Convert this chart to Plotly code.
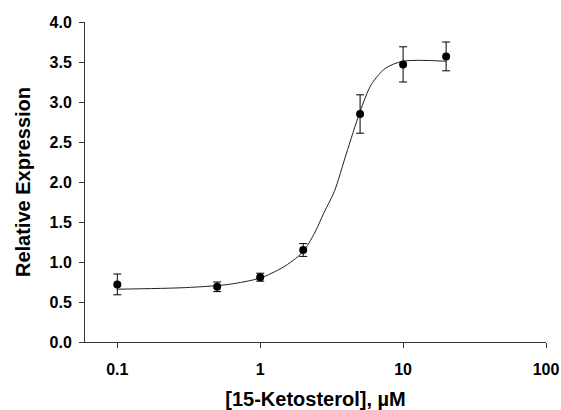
import plotly.graph_objects as go

# Measured data points
conc = [0.1, 0.5, 1, 2, 5, 10, 20]
expr = [0.72, 0.69, 0.81, 1.15, 2.85, 3.47, 3.57]
err = [0.13, 0.06, 0.05, 0.08, 0.24, 0.22, 0.18]

# Fitted curve
curve_x = [0.1, 0.3, 0.6, 1.0, 1.4, 1.7, 2.0, 2.4, 2.8, 3.3, 4.0, 5.0, 6.0, 7.5, 10, 20]
curve_y = [0.66, 0.68, 0.72, 0.80, 0.92, 1.02, 1.13, 1.36, 1.62, 1.88, 2.35, 2.88, 3.22, 3.42, 3.51, 3.51]

x_ticks = [0.1, 1, 10, 100]
x_tick_text = ["0.1", "1", "10", "100"]
y_ticks = [0.0, 0.5, 1.0, 1.5, 2.0, 2.5, 3.0, 3.5, 4.0]

font_family = "Liberation Sans, Arial, sans-serif"

fig = go.Figure()
fig.add_trace(go.Scatter(
    x=curve_x, y=curve_y, mode="lines",
    line=dict(color="#222222", width=1, shape="spline", smoothing=0.8),
    hoverinfo="skip", showlegend=False,
))
fig.add_trace(go.Scatter(
    x=conc, y=expr, mode="markers",
    marker=dict(color="black", size=8),
    error_y=dict(type="data", array=err, color="black", thickness=1, width=4),
    showlegend=False,
))

fig.update_layout(
    width=561, height=410,
    margin=dict(l=85, r=15, t=22, b=68),
    paper_bgcolor="white", plot_bgcolor="white",
    font=dict(family=font_family, color="black"),
    xaxis=dict(
        type="log", range=[-1.226, 2.0], automargin=False,
        tickvals=x_ticks, ticktext=x_tick_text,
        ticks="outside", ticklen=5, tickcolor="#333", tickwidth=1,
        ticklabelstandoff=8,
        showline=True, linecolor="#333", linewidth=1,
        showgrid=False, zeroline=False,
        tickfont=dict(size=16, family=font_family, weight="bold"),
        title=dict(text="<b>[15-Ketosterol], µM</b>", font=dict(size=20), standoff=14),
    ),
    yaxis=dict(
        range=[0, 4.0], tickvals=y_ticks, tickformat=".1f", automargin=False,
        ticks="outside", ticklen=5, tickcolor="#333", tickwidth=1,
        ticklabelstandoff=4,
        showline=True, linecolor="#333", linewidth=1,
        showgrid=False, zeroline=False,
        tickfont=dict(size=16, family=font_family, weight="bold"),
        title=dict(text="<b>Relative Expression</b>", font=dict(size=20), standoff=13),
    ),
)

fig.write_html("out.html")
